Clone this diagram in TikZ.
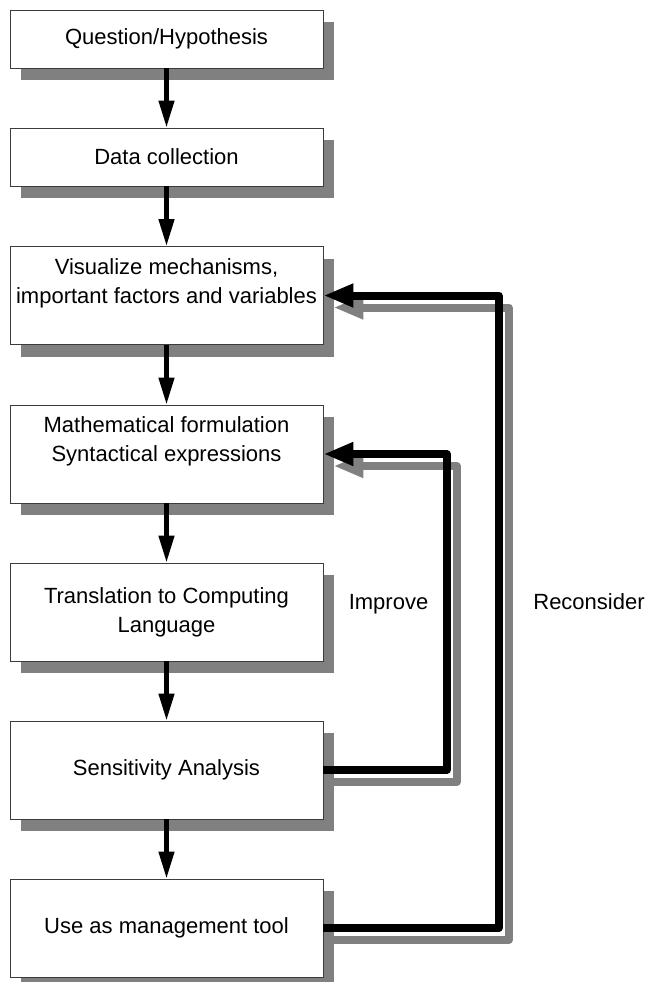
\documentclass[tikz,border=0pt]{standalone}
\usepackage{fontspec}
\setmainfont{Liberation Sans}
\usetikzlibrary{arrows.meta,shadows}

\definecolor{shadowgrey}{RGB}{128,128,128}
\definecolor{edgegrey}{RGB}{60,60,60}

\tikzset{
  stepbox/.style={draw=edgegrey, line width=0.9pt, fill=white,
    minimum width=313pt, align=center, inner sep=0pt,
    font=\fontsize{22}{29}\selectfont,
    drop shadow={shadow xshift=11pt, shadow yshift=-12pt,
      fill=shadowgrey, opacity=1}},
  lowbox/.style={stepbox, minimum height=58pt},
  tallbox/.style={stepbox, minimum height=98pt},
  flow/.style={line width=4.5pt, -{Triangle[length=27pt,width=15pt]}},
  loopback/.style={line width=8pt, line join=round,
    -{Triangle[length=30pt,width=22pt]}},
  tag/.style={font=\fontsize{22}{29}\selectfont, anchor=base, inner sep=0pt}
}

\begin{document}
\begin{tikzpicture}[x=1pt, y=-1pt]
\useasboundingbox (0,0) rectangle (647,982);

% process steps
\node[lowbox]  (b1) at (166.5,39)    {Question/Hypothesis};
\node[lowbox]  (b2) at (166.5,157)   {Data collection};
\node[tallbox] (b3) at (166.5,295.5) {Visualize mechanisms,\\important factors and variables\\\mbox{}};
\node[tallbox] (b4) at (166.5,454)   {Mathematical formulation\\Syntactical expressions\\\mbox{}};
\node[tallbox] (b5) at (166.5,612)   {Translation to Computing\\Language};
\node[tallbox] (b6) at (166.5,770)   {Sensitivity Analysis};
\node[tallbox] (b7) at (166.5,928)   {Use as management tool};

% vertical positions of the two feedback loops
\coordinate (imp) at (446.5,0);
\coordinate (rec) at (498.5,0);

% shadows of the feedback loops
\begin{scope}[transform canvas={xshift=10pt, yshift=-12pt}, shadowgrey]
  \draw[loopback] (b6.east) -- (b6.east -| imp) -- (imp |- b4.east) -- (b4.east);
  \draw[loopback] (b7.east) -- (b7.east -| rec) -- (rec |- b3.east) -- (b3.east);
\end{scope}

% feedback loops
\draw[loopback] (b6.east) -- (b6.east -| imp) -- (imp |- b4.east) -- (b4.east);
\draw[loopback] (b7.east) -- (b7.east -| rec) -- (rec |- b3.east) -- (b3.east);

% main flow
\draw[flow] (b1) -- (b2);
\draw[flow] (b2) -- (b3);
\draw[flow] (b3) -- (b4);
\draw[flow] (b4) -- (b5);
\draw[flow] (b5) -- (b6);
\draw[flow] (b6) -- (b7);

% loop labels
\node[tag] (improve)    at (388.5,609) {Improve};
\node[tag] (reconsider) at (589,609)   {Reconsider};
\end{tikzpicture}
\end{document}
